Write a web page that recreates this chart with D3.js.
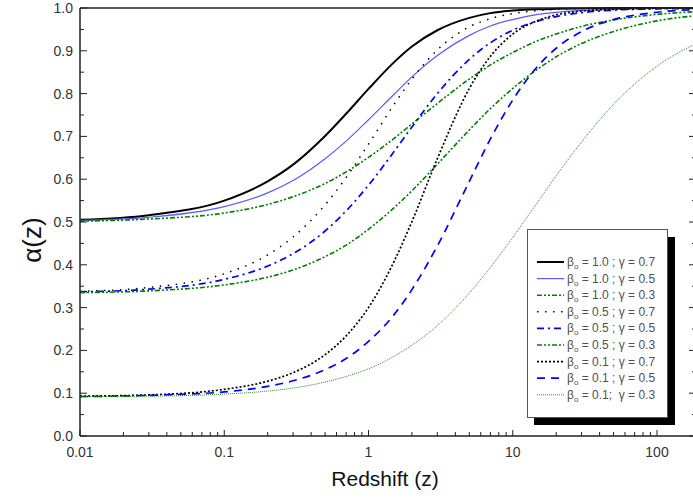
<!DOCTYPE html>
<html>
<head>
<meta charset="utf-8">
<script src="https://cdn.jsdelivr.net/npm/d3@7"></script>
<style>
  body { margin: 0; background: #fff; }
  svg { display: block; font-family: "Liberation Sans", Arial, sans-serif; }
  .tick-label { font-size: 14px; fill: #333; }
  .legend-text { font-size: 12px; fill: #505050; white-space: pre; }
</style>
</head>
<body>
<div id="chart"></div>
<script>
// redshift sample points
var redshift = [0.01, 0.03, 0.1, 0.2, 0.3, 0.5, 0.7, 1, 1.5, 2, 3, 5, 7, 10, 15, 20, 30, 50, 100, 200];

// alpha(z) for each beta_o / gamma pair
var alphaB10G07 = [0.505, 0.516, 0.550, 0.595, 0.634, 0.701, 0.753, 0.811, 0.873, 0.910, 0.948, 0.977, 0.988, 0.994, 0.997, 0.998, 0.999, 1.000, 1.000, 1.000];
var alphaB10G05 = [0.504, 0.511, 0.536, 0.568, 0.597, 0.648, 0.689, 0.739, 0.798, 0.839, 0.889, 0.936, 0.958, 0.973, 0.985, 0.990, 0.994, 0.997, 0.999, 1.000];
var alphaB10G03 = [0.502, 0.507, 0.521, 0.541, 0.559, 0.590, 0.617, 0.651, 0.695, 0.729, 0.777, 0.834, 0.867, 0.896, 0.924, 0.939, 0.957, 0.972, 0.985, 0.992];
var alphaB05G07 = [0.338, 0.347, 0.379, 0.423, 0.465, 0.540, 0.604, 0.682, 0.774, 0.834, 0.902, 0.956, 0.975, 0.987, 0.994, 0.997, 0.999, 1.000, 1.000, 1.000];
var alphaB05G05 = [0.337, 0.343, 0.366, 0.397, 0.426, 0.479, 0.526, 0.586, 0.664, 0.722, 0.800, 0.880, 0.919, 0.948, 0.970, 0.980, 0.989, 0.995, 0.998, 0.999];
var alphaB05G03 = [0.335, 0.339, 0.353, 0.371, 0.388, 0.419, 0.446, 0.483, 0.533, 0.573, 0.635, 0.715, 0.765, 0.812, 0.858, 0.886, 0.917, 0.945, 0.970, 0.983];
var alphaB01G07 = [0.093, 0.096, 0.109, 0.128, 0.148, 0.190, 0.234, 0.300, 0.407, 0.501, 0.648, 0.812, 0.887, 0.939, 0.971, 0.984, 0.993, 0.997, 0.999, 1.000];
var alphaB01G05 = [0.092, 0.095, 0.103, 0.116, 0.129, 0.155, 0.181, 0.221, 0.283, 0.342, 0.444, 0.595, 0.694, 0.785, 0.865, 0.906, 0.945, 0.973, 0.990, 0.997];
var alphaB01G03 = [0.092, 0.093, 0.098, 0.105, 0.112, 0.126, 0.139, 0.157, 0.186, 0.212, 0.258, 0.334, 0.394, 0.464, 0.548, 0.608, 0.687, 0.775, 0.864, 0.922];

// legend labels
var legendBeta = ["1.0", "1.0", "1.0", "0.5", "0.5", "0.5", "0.1", "0.1", "0.1"];
var legendGamma = ["0.7", "0.5", "0.3", "0.7", "0.5", "0.3", "0.7", "0.5", "0.3"];

var yTicks = [0, 0.1, 0.2, 0.3, 0.4, 0.5, 0.6, 0.7, 0.8, 0.9, 1.0];
var xTicks = [0.01, 0.1, 1, 10, 100];

var svgWidth = 693;
var svgHeight = 500;

var margin = { top: 8, left: 80, bottom: 64 };
var decade = 144.25;

var svg = d3.select("#chart")
  .append("svg")
  .attr("width", svgWidth)
  .attr("height", svgHeight);

var xScale = d3.scaleLog()
  .domain([0.01, 1000])
  .range([margin.left, margin.left + decade * 5]);

var yScale = d3.scaleLinear()
  .domain([0, 1])
  .range([svgHeight - margin.bottom, margin.top]);

var x0 = margin.left, y0 = yScale(0), yTop = yScale(1), xRight = 696;

// line styles, same order as the series
var series = [
  { values: alphaB10G07, color: "#000000", width: 2, dash: null },
  { values: alphaB10G05, color: "#5a5aff", width: 1.2, dash: null },
  { values: alphaB10G03, color: "#008000", width: 1.6, dash: "5,2,2,2,2,2" },
  { values: alphaB05G07, color: "#000000", width: 1.5, dash: "1.5,6.5" },
  { values: alphaB05G05, color: "#0000ff", width: 1.7, dash: "7,4,2,4" },
  { values: alphaB05G03, color: "#008000", width: 1.6, dash: "5,2,2,2,2,2" },
  { values: alphaB01G07, color: "#000000", width: 1.7, dash: "2,2" },
  { values: alphaB01G05, color: "#0000ff", width: 1.7, dash: "8,6" },
  { values: alphaB01G03, color: "#2e8b2e", width: 1, dash: "1,1" }
];

svg.append("clipPath").attr("id", "plotClip")
  .append("rect")
  .attr("x", x0).attr("y", yTop - 2)
  .attr("width", xRight - x0).attr("height", y0 - yTop + 2);

var line = d3.line()
  .x(function(d) { return xScale(d[0]); })
  .y(function(d) { return yScale(d[1]); })
  .curve(d3.curveMonotoneX);

var curves = svg.append("g").attr("clip-path", "url(#plotClip)");
series.forEach(function(s) {
  curves.append("path")
    .datum(redshift.map(function(z, i) { return [z, s.values[i]]; }))
    .attr("d", line)
    .attr("fill", "none")
    .attr("stroke", s.color)
    .attr("stroke-width", s.width)
    .attr("stroke-dasharray", s.dash);
});

// frame
var axisColor = "#222";
svg.append("line").attr("x1", x0).attr("x2", xRight).attr("y1", y0).attr("y2", y0)
  .attr("stroke", axisColor).attr("stroke-width", 1.5);
svg.append("line").attr("x1", x0).attr("x2", xRight).attr("y1", yTop).attr("y2", yTop)
  .attr("stroke", axisColor).attr("stroke-width", 1.5);
svg.append("line").attr("x1", x0).attr("x2", x0).attr("y1", yTop).attr("y2", y0)
  .attr("stroke", axisColor).attr("stroke-width", 1.5);
svg.append("line").attr("x1", xRight).attr("x2", xRight).attr("y1", yTop).attr("y2", y0)
  .attr("stroke", axisColor).attr("stroke-width", 1.5);

// y ticks (inward, left and right)
var yMinor = d3.range(0.05, 1, 0.1);
var ticks = svg.append("g").attr("stroke", axisColor).attr("stroke-width", 1);
yTicks.forEach(function(v) {
  ticks.append("line").attr("x1", x0).attr("x2", x0 + 7).attr("y1", yScale(v)).attr("y2", yScale(v));
  ticks.append("line").attr("x1", xRight).attr("x2", xRight - 7).attr("y1", yScale(v)).attr("y2", yScale(v));
});
yMinor.forEach(function(v) {
  ticks.append("line").attr("x1", x0).attr("x2", x0 + 4).attr("y1", yScale(v)).attr("y2", yScale(v));
  ticks.append("line").attr("x1", xRight).attr("x2", xRight - 4).attr("y1", yScale(v)).attr("y2", yScale(v));
});

// x ticks (inward, log minors)
[0.01, 0.1, 1, 10, 100].forEach(function(d) {
  ticks.append("line").attr("x1", xScale(d)).attr("x2", xScale(d)).attr("y1", y0).attr("y2", y0 - 6);
  for (var k = 2; k <= 9; k++) {
    var v = d * k;
    if (xScale(v) > xRight) break;
    ticks.append("line").attr("x1", xScale(v)).attr("x2", xScale(v)).attr("y1", y0).attr("y2", y0 - 4);
  }
});

// tick labels
svg.selectAll(".ylab").data(yTicks).enter().append("text")
  .attr("class", "tick-label")
  .attr("x", x0 - 7)
  .attr("y", function(d) { return yScale(d) + 5; })
  .attr("text-anchor", "end")
  .text(function(d) { return d.toFixed(1); });

svg.selectAll(".xlab").data(xTicks).enter().append("text")
  .attr("class", "tick-label")
  .attr("x", function(d) { return xScale(d); })
  .attr("y", y0 + 21)
  .attr("text-anchor", "middle")
  .text(function(d) { return String(d); });

// axis titles
svg.append("text")
  .attr("x", 385).attr("y", 486)
  .attr("text-anchor", "middle")
  .attr("font-size", 21)
  .attr("fill", "#111")
  .text("Redshift (z)");

svg.append("text")
  .attr("transform", "translate(41,240) rotate(-90)")
  .attr("text-anchor", "middle")
  .attr("font-size", 26)
  .attr("fill", "#111")
  .text("α(z)");

// legend
var lg = svg.append("g");
lg.append("rect").attr("x", 534).attr("y", 237).attr("width", 141).attr("height", 188).attr("fill", "#000");
lg.append("rect").attr("x", 527.5).attr("y", 229.5).attr("width", 140).attr("height", 188)
  .attr("fill", "#fff").attr("stroke", "#555").attr("stroke-width", 1);

series.forEach(function(s, i) {
  var ly = 262 + i * 16.6;
  lg.append("line")
    .attr("x1", 537).attr("x2", 564).attr("y1", ly).attr("y2", ly)
    .attr("stroke", s.color)
    .attr("stroke-width", s.width)
    .attr("stroke-dasharray", s.dash);
  var t = lg.append("text").attr("class", "legend-text").attr("x", 567).attr("y", ly + 4);
  t.append("tspan").text("β");
  t.append("tspan").attr("dy", 3).attr("font-size", 8).text("o");
  var rest = i === 8
    ? " = " + legendBeta[i] + ";  γ = " + legendGamma[i]
    : " = " + legendBeta[i] + " ; γ = " + legendGamma[i];
  t.append("tspan").attr("dy", -3).text(rest);
});
</script>
</body>
</html>
